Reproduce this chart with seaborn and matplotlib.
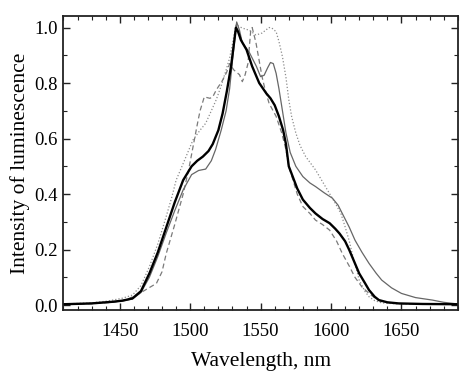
import numpy as np
import pandas as pd
import matplotlib
matplotlib.use("Agg")
import matplotlib.pyplot as plt
import seaborn as sns
from matplotlib.ticker import MultipleLocator

# Spectra (wavelength in nm, normalized intensity)
thick_x = [1410, 1430, 1445, 1452, 1459, 1465, 1471, 1477, 1483, 1489, 1495, 1501, 1505, 1509, 1513, 1516,
           1520, 1523, 1526, 1529, 1531, 1532.5, 1534, 1536, 1540, 1544, 1549, 1554, 1557, 1560, 1563, 1566,
           1568, 1570, 1573, 1576, 1580, 1585, 1589, 1594, 1599, 1603, 1606, 1610, 1613, 1617, 1620, 1624,
           1627, 1631, 1634, 1640, 1648, 1665, 1690]
thick_y = [0.003, 0.006, 0.012, 0.016, 0.024, 0.05, 0.114, 0.19, 0.28, 0.37, 0.45, 0.50, 0.52, 0.535, 0.555, 0.58,
           0.63, 0.69, 0.77, 0.86, 0.94, 1.0, 0.985, 0.955, 0.92, 0.86, 0.80, 0.763, 0.745, 0.72, 0.68, 0.63,
           0.58, 0.50, 0.46, 0.42, 0.38, 0.35, 0.33, 0.31, 0.295, 0.275, 0.258, 0.23, 0.198, 0.15, 0.114, 0.08,
           0.054, 0.03, 0.018, 0.01, 0.006, 0.004, 0.003]

thin_x = [1410, 1430, 1445, 1452, 1459, 1465, 1471, 1477, 1483, 1489, 1495, 1501, 1506, 1511, 1515, 1518,
          1522, 1525.5, 1528, 1530, 1531.5, 1533, 1535, 1537, 1542, 1547, 1550, 1552.5, 1555, 1557, 1559,
          1561, 1563, 1565.5, 1568, 1571, 1575, 1580, 1585, 1589, 1595, 1601, 1605, 1608, 1613, 1617, 1622,
          1627, 1632, 1636, 1643, 1650, 1660, 1672, 1680, 1690]
thin_y = [0.003, 0.006, 0.011, 0.015, 0.022, 0.045, 0.1, 0.175, 0.26, 0.34, 0.415, 0.47, 0.485, 0.49, 0.52, 0.56,
          0.63, 0.70, 0.78, 0.88, 0.95, 1.02, 0.99, 0.945, 0.91, 0.86, 0.823, 0.828, 0.855, 0.874, 0.87,
          0.835, 0.78, 0.70, 0.62, 0.55, 0.50, 0.463, 0.44, 0.427, 0.405, 0.385, 0.36, 0.33, 0.28, 0.234, 0.19,
          0.15, 0.115, 0.09, 0.062, 0.042, 0.027, 0.018, 0.01, 0.004]

dash_x = [1410, 1430, 1445, 1455, 1464, 1470, 1476, 1480, 1483, 1489, 1495, 1499, 1502, 1505, 1507, 1510,
          1514, 1516, 1518.5, 1523, 1526, 1528, 1531, 1535, 1537, 1539, 1541, 1543, 1544, 1546.7, 1549, 1551,
          1553, 1556, 1561, 1565, 1568, 1570, 1573, 1576, 1580, 1585, 1589, 1594, 1599, 1604, 1608, 1613,
          1617, 1622, 1627, 1632, 1636, 1645, 1660, 1690]
dash_y = [0.003, 0.005, 0.01, 0.02, 0.042, 0.06, 0.078, 0.12, 0.186, 0.29, 0.40, 0.49, 0.57, 0.65, 0.70, 0.75,
          0.745, 0.75, 0.775, 0.81, 0.84, 0.87, 0.847, 0.83, 0.805, 0.83, 0.87, 0.99, 1.0, 0.945, 0.88, 0.823,
          0.78, 0.727, 0.68, 0.62, 0.56, 0.50, 0.45, 0.40, 0.355, 0.33, 0.306, 0.29, 0.27, 0.23, 0.186, 0.14,
          0.10, 0.065, 0.042, 0.022, 0.012, 0.006, 0.004, 0.003]

dot_x = [1410, 1430, 1442, 1452, 1459, 1465, 1471, 1477, 1483, 1487, 1490, 1495, 1502, 1507, 1511, 1515,
         1518.5, 1522, 1525.5, 1528, 1530, 1532.5, 1537, 1542, 1546.7, 1551, 1556, 1558, 1561, 1563, 1565.5,
         1568, 1570, 1572, 1575, 1578, 1582, 1589, 1596, 1603, 1607, 1610, 1613, 1615, 1618, 1620, 1624, 1627,
         1631, 1636, 1645, 1660, 1690]
dot_y = [0.004, 0.008, 0.015, 0.025, 0.036, 0.07, 0.138, 0.22, 0.32, 0.39, 0.45, 0.51, 0.595, 0.63, 0.655, 0.70,
         0.74, 0.79, 0.847, 0.89, 0.94, 1.01, 0.998, 0.99, 0.973, 0.98, 1.0, 0.998, 0.985, 0.95, 0.895,
         0.82, 0.74, 0.68, 0.62, 0.575, 0.535, 0.487, 0.427, 0.367, 0.33, 0.282, 0.23, 0.186, 0.13, 0.09, 0.05, 0.03,
         0.016, 0.008, 0.005, 0.004, 0.003]

plt.rcParams['font.family'] = ['Liberation Serif', 'DejaVu Serif']

fig = plt.figure(figsize=(4.7, 3.8), dpi=100)
ax = fig.add_axes([0.135, 0.184, 0.839, 0.775])

sns.lineplot(x=dot_x, y=dot_y, ax=ax, color='#8c8c8c', lw=0.9, linestyle=(0, (1, 1.6)))
sns.lineplot(x=dash_x, y=dash_y, ax=ax, color='#7a7a7a', lw=0.9, linestyle=(0, (4, 2.5)))
sns.lineplot(x=thin_x, y=thin_y, ax=ax, color='#666666', lw=0.9)
sns.lineplot(x=thick_x, y=thick_y, ax=ax, color='black', lw=1.7)

ax.set_xlim(1410, 1690)
ax.set_ylim(-0.018, 1.043)
ax.xaxis.set_major_locator(MultipleLocator(50))
ax.xaxis.set_minor_locator(MultipleLocator(10))
ax.yaxis.set_major_locator(MultipleLocator(0.2))
ax.yaxis.set_minor_locator(MultipleLocator(0.1))
ax.yaxis.set_major_formatter(matplotlib.ticker.FormatStrFormatter('%.1f'))
ax.tick_params(which='both', direction='in', top=True, right=True, labelsize=13.5, color='#222222')
ax.tick_params(which='major', length=5, width=1)
ax.tick_params(which='minor', length=3, width=0.8)
ax.tick_params(axis='x', pad=9)
ax.tick_params(axis='y', pad=4)
for s in ax.spines.values():
    s.set_linewidth(1.3)
    s.set_color('#222222')

ax.set_xlabel('Wavelength, nm', fontsize=15.5, labelpad=9)
ax.set_ylabel('Intensity of luminescence', fontsize=15.5, labelpad=3)

fig.savefig('out.png', dpi=100)
